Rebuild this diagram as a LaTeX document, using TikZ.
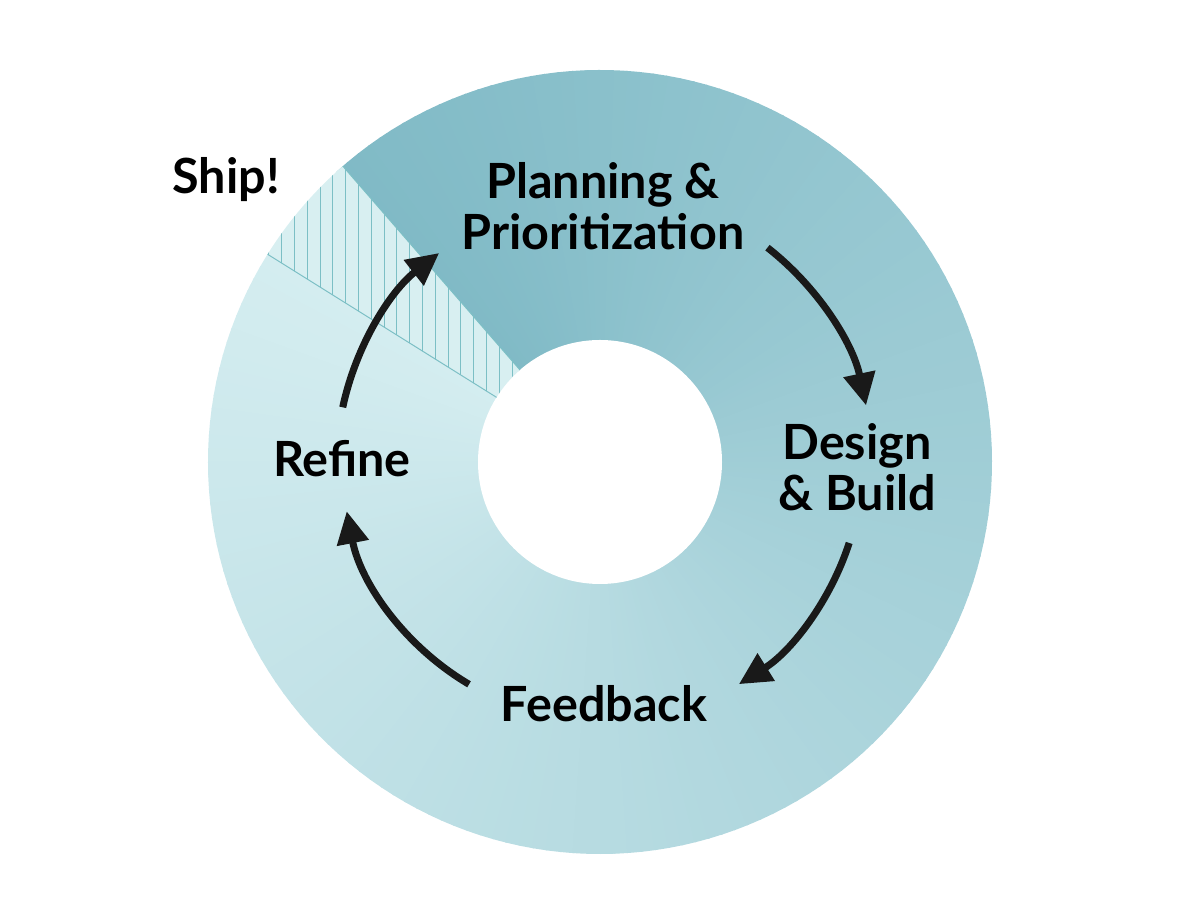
\documentclass[tikz,border=0pt]{standalone}
\usepackage{fontspec}
\setmainfont{Lato}
\usepackage{tikz}
\usetikzlibrary{arrows.meta}

\definecolor{ringlight}{HTML}{D4EDF0}
\definecolor{ringdark}{HTML}{80BAC6}
\definecolor{hatchfill}{HTML}{D8EFF1}
\definecolor{hatchline}{HTML}{7CBFC5}

\tikzset{
  lbl/.style={font=\fontsize{34.5}{36}\selectfont\bfseries, align=center, inner sep=0pt},
  cyc/.style={line width=5pt, draw=black!90, -{Triangle[length=23pt,width=22pt]}},
}

\begin{document}
\begin{tikzpicture}[x=0.025cm, y=0.025cm]
\useasboundingbox (-600,-462) rectangle (600,462);

% ring, shaded by angle
\foreach \i in {0,...,171}{
  \pgfmathsetmacro\a{148+2*\i}
  \pgfmathsetmacro\b{\a+2.3}
  \pgfmathsetmacro\p{\i/1.71}
  \fill[ringdark!\p!ringlight] (0,0) -- (\a:392) arc[start angle=\a, end angle=\b, radius=392] -- cycle;
}
\fill[white] (0,0) circle (122);

% ship band
\begin{scope}
  \clip (131:122) -- (131:392) arc[start angle=131, end angle=148, radius=392] -- (148:122) arc[start angle=148, end angle=131, radius=122] -- cycle;
  \fill[hatchfill] (-400,0) rectangle (0,400);
  \foreach \x in {-344,-331.2,...,-70}
    \draw[hatchline, line width=0.6pt] (\x,0) -- (\x,400);
\end{scope}
\draw[hatchline, line width=0.7pt] (131:122) -- (131:392);
\draw[hatchline, line width=0.7pt] (148:122) -- (148:392);

% labels
\node[lbl] (ship) at (-374,282) {Ship!};
\node[lbl] (plan) at (3,256) {Planning \&\\Prioritization};
\node[lbl] (build) at (257,-5) {Design\\\& Build};
\node[lbl] (feed) at (4,-242) {Feedback};
\node[lbl] (refine) at (-258,3) {Refine};

% arrows
\coordinate (a1) at (52:272);
\coordinate (a2) at (-18:262);
\coordinate (a3) at (239.5:258);
\coordinate (a4) at (168:263);
\draw[cyc] (a1) arc[start angle=52, end angle=12, radius=272];
\draw[cyc] (a2) arc[start angle=-18, end angle=-58, radius=262];
\draw[cyc] (a3) arc[start angle=239.5, end angle=191, radius=258];
\draw[cyc] (a4) arc[start angle=168, end angle=128, radius=266];
\end{tikzpicture}
\end{document}
